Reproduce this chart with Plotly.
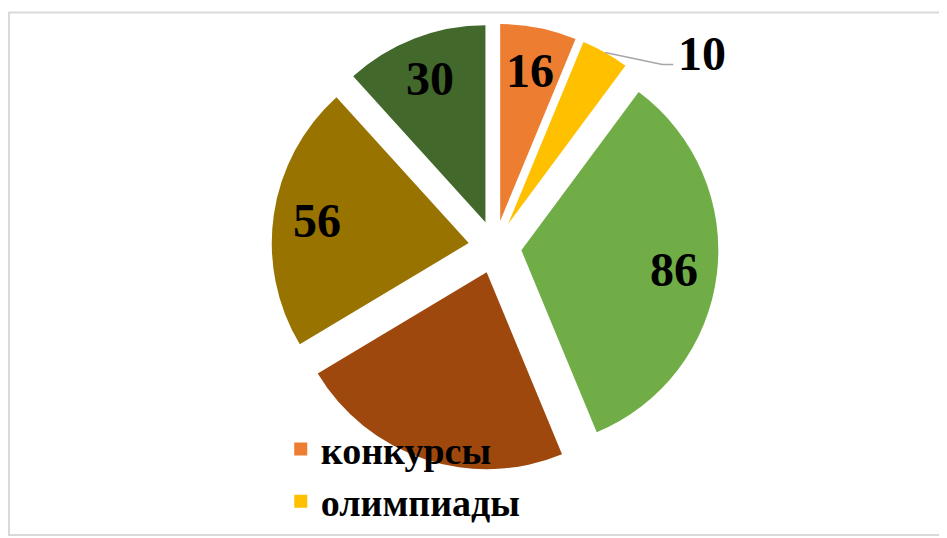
import math
import plotly.graph_objects as go

categories = ["конкурсы", "олимпиады", "конференции", "проекты", "соревнования", "фестивали"]
values = [16, 10, 86, 58, 56, 30]
colors = ["#ED7D31", "#FFC000", "#70AD47", "#9E480E", "#997300", "#43682B"]
text_labels = ["16", "10", "86", "", "56", "30"]
legend_items = ["конкурсы", "олимпиады"]

serif = "Liberation Serif, Times New Roman, serif"
W, H = 947, 538
PULL = 0.135
dom_x = [0.2782, 0.7503]
dom_y = [0.1403, 0.9712]

fig = go.Figure()
fig.add_trace(go.Pie(
    labels=categories,
    values=values,
    textinfo="none",
    marker=dict(colors=colors, line=dict(color="white", width=0)),
    pull=[PULL] * len(values),
    sort=False,
    direction="clockwise",
    rotation=0,
    showlegend=False,
    domain=dict(x=dom_x, y=dom_y),
    hoverinfo="label+value",
))

for name in legend_items:
    idx = categories.index(name)
    fig.add_trace(go.Scatter(
        x=[None], y=[None], mode="markers", name=name,
        marker=dict(symbol="square", size=13, color=colors[idx]),
        showlegend=True,
    ))

# geometry of the pie as plotly lays it out (used to place data labels)
cx = (dom_x[0] + dom_x[1]) / 2 * W
cy = (1 - (dom_y[0] + dom_y[1]) / 2) * H
R = min((dom_x[1] - dom_x[0]) * W, (dom_y[1] - dom_y[0]) * H) / 2 / (1 + PULL)
total = sum(values)
label_font = dict(family=serif, size=48, color="black", weight="bold")

annotations = []
shapes = []
cum = 0
for v, t in zip(values, text_labels):
    mid = (cum + v / 2) / total * 2 * math.pi
    cum += v
    if not t:
        continue
    if v / total > 0.05:
        r = R * PULL + R * 0.78
        px = cx + r * math.sin(mid)
        py = cy - r * math.cos(mid)
        annotations.append(dict(
            x=px / W, y=1 - py / H, xref="paper", yref="paper",
            xanchor="center", yanchor="middle",
            text=t, showarrow=False, font=label_font,
        ))
    else:
        r = R * (1 + PULL)
        sx = cx + r * math.sin(mid)
        sy = cy - r * math.cos(mid)
        p1 = (sx + 57, sy + 12)
        p2 = (sx + 68, sy + 12)
        shapes.append(dict(
            type="path", xref="paper", yref="paper",
            path="M {:.4f},{:.4f} L {:.4f},{:.4f} L {:.4f},{:.4f}".format(
                sx / W, 1 - sy / H, p1[0] / W, 1 - p1[1] / H, p2[0] / W, 1 - p2[1] / H),
            line=dict(color="#A6A6A6", width=1.5),
        ))
        annotations.append(dict(
            x=(p2[0] + 3) / W, y=1 - (sy + 1) / H, xref="paper", yref="paper",
            xanchor="left", yanchor="middle",
            text=t, showarrow=False, font=label_font,
        ))

shapes.append(dict(type="rect", xref="paper", yref="paper",
                   x0=1 / W, y0=1 - 527 / H, x1=1.01, y1=1 - 4.5 / H,
                   line=dict(color="#D9D9D9", width=2), fillcolor="rgba(0,0,0,0)",
                   layer="below"))

fig.update_layout(
    width=W, height=H,
    margin=dict(l=0, r=0, t=0, b=0, autoexpand=False),
    paper_bgcolor="white", plot_bgcolor="rgba(0,0,0,0)",
    xaxis=dict(visible=False), yaxis=dict(visible=False),
    legend=dict(
        x=0.288, y=0.2385, xanchor="left", yanchor="top",
        font=dict(family=serif, size=38, color="black", weight="bold"),
        bgcolor="rgba(0,0,0,0)", tracegroupgap=0, itemwidth=30,
    ),
    annotations=annotations,
    shapes=shapes,
)

fig.write_html("out.html")
